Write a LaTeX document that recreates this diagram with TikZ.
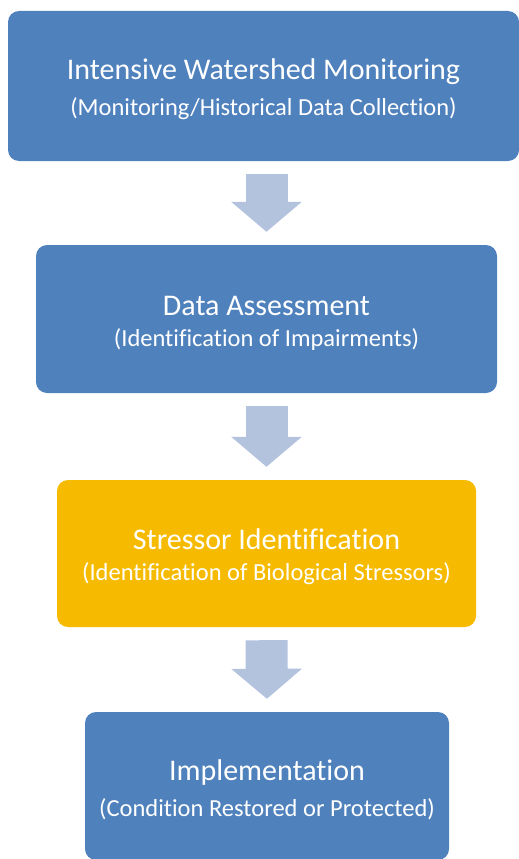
\documentclass[tikz,border=0pt]{standalone}
\usepackage{fontspec}
\setmainfont{Carlito}[Ligatures=CommonOff]
\usetikzlibrary{positioning}
\usetikzlibrary{arrows.meta}
\definecolor{boxblue}{HTML}{4F81BD}
\definecolor{boxyellow}{HTML}{F6BB00}
\definecolor{arrowgray}{HTML}{B3C3DE}
\newcommand{\stagetitle}{\fontsize{30}{36}\selectfont\rule{0pt}{28pt}}
\newcommand{\stagesub}{\fontsize{24.5}{30}\selectfont}

\begin{document}
\begin{tikzpicture}[x=1pt, y=-1pt,
                      stagebox/.style={rectangle, rounded corners=11pt, fill=boxblue, text=white, align=center, inner sep=0pt},
                      stagebox_hl/.style={stagebox, fill=boxyellow},
                      blockarrow/.style={draw=arrowgray, line width=42pt, -{Triangle[length=30pt, width=69pt]}, shorten <=13pt, shorten >=13pt},
                  ]
                  \clip (0,0) rectangle (519,859);
                  \useasboundingbox (0,0) rectangle (519,859);
                  %Nodes
                  \node[stagebox, minimum width=511pt, minimum height=150pt]    (monitor)   at (263.5,86)   {\stagetitle Intensive Watershed Monitoring\\[12pt] \stagesub (Monitoring/Historical Data Collection)};
                  \node[stagebox, minimum width=461pt, minimum height=148pt]    (assess)    at (266.5,319)  {\stagetitle Data Assessment\\[12pt] \stagesub (Identification of Impairments)};
                  \node[stagebox_hl, minimum width=419pt, minimum height=147pt] (stressor)  at (266.5,553.5) {\stagetitle Stressor Identification\\[12pt] \stagesub (Identification of Biological Stressors)};
                  \node[stagebox, minimum width=364pt, minimum height=148pt]    (implement) at (267,786)    {\stagetitle Implementation\\[12pt] \stagesub (Condition Restored or Protected)};

                  %Lines
                  \draw[blockarrow] (monitor.south -| assess.north) -- (assess.north);
                  \draw[blockarrow] (assess.south) -- (stressor.north);
                  \draw[blockarrow] (stressor.south) -- (implement.north);
              \end{tikzpicture}
\end{document}
